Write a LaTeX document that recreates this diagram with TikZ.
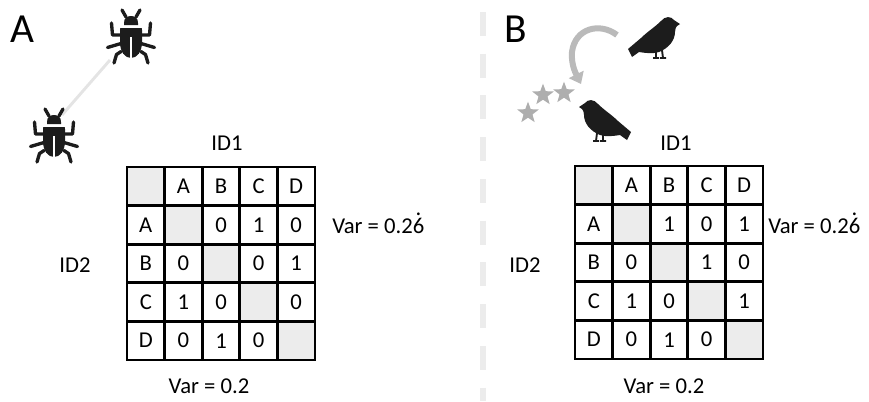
\documentclass[tikz,border=0pt]{standalone}
\usepackage{fontspec}
\setmainfont{Carlito}
\usetikzlibrary{arrows.meta,calc,matrix,shapes.geometric}
\definecolor{iconblack}{RGB}{28,28,28}
\definecolor{cellgray}{RGB}{236,236,236}
\definecolor{linkgray}{RGB}{228,228,228}
\definecolor{stargray}{RGB}{174,174,174}
\definecolor{hopgray}{RGB}{186,186,186}
\definecolor{divgray}{RGB}{236,236,236}
% recurring digit: a dot set over the 6
\newcommand{\recursix}{\ooalign{6\cr\hidewidth\raisebox{0.78em}{.}\hidewidth\cr}}
\tikzset{
  panel label/.style={font=\fontsize{31}{34}\selectfont,inner sep=0pt},
  axis label/.style={font=\fontsize{17}{20}\selectfont,inner sep=0pt},
  adj matrix/.style={matrix of nodes,nodes in empty cells,column sep=-2pt,row sep=-2pt,
    nodes={draw,line width=2pt,minimum width=28.2pt,minimum height=28.95pt,
      inner sep=0pt,anchor=center,font=\fontsize{17}{20}\selectfont}},
  diag cell/.style={fill=cellgray},
  bug leg/.style={iconblack,line width=2.5pt,line cap=round,line join=round},
  bug link/.style={linkgray,line width=2.2pt},
  bird foot/.style={iconblack,line width=1.4pt},
  hop arrow/.style={hopgray,line width=4.5pt,-{Triangle[width=12pt,length=8pt]}},
  mark star/.style={star,star points=5,star point ratio=2.4,fill=stargray,
    inner sep=0pt,minimum size=17pt},
  divider/.style={divgray,line width=3.8pt,dash pattern=on 18pt off 13.3pt},
  pics/beetle/.style={code={
    \draw[bug leg] (-9,-26) -- (-5,-19) (9,-26) -- (5,-19);
    \fill[iconblack] (-7,-11) -- (-7,-13) .. controls (-7,-18) and (-4,-20) .. (0,-20)
      .. controls (4,-20) and (7,-18) .. (7,-13) -- (7,-11) -- cycle;
    \fill[iconblack] (-11,-6) .. controls (-11,-8) .. (-9,-8) -- (9,-8)
      .. controls (11,-8) .. (11,-6) -- (11,6) .. controls (11,16) and (6,22) .. (0,22)
      .. controls (-6,22) and (-11,16) .. (-11,6) -- cycle;
    \draw[white,line width=1.2pt] (0,1) -- (0,23);
    \foreach \s in {-1,1}{
      \draw[bug leg] (\s*10,-1) -- (\s*18.5,-1) -- (\s*19.5,-13);
      \draw[bug leg] (\s*10,7.5) -- (\s*23.5,11.5);
      \draw[bug leg] (\s*10,15.5) -- (\s*14.5,18.5) -- (\s*17,27);
    }
  }},
  pics/bird/.style={code={
    \fill[iconblack] (25,-14) -- (19,-18) .. controls (16,-22) and (10,-22) .. (6,-17)
      .. controls (0,-11) and (-8,-6) .. (-14,0) -- (-27,11) -- (-23,19) -- (-16,14)
      .. controls (-10,15) and (-2,16) .. (4,14) .. controls (14,10) and (20,2) .. (20,-6)
      .. controls (20,-9) and (21,-11) .. (22,-12) -- cycle;
    \draw[bird foot] (1,13) -- (1,20) (-2,20) -- (4,20) (7,12) -- (8,20) (5,20) -- (11,20);
  }},
}

\begin{document}
\begin{tikzpicture}[x=0.75pt,y=-0.75pt]
  \useasboundingbox (0,0) rectangle (869,401);

  % A: beetles
  \node[panel label,anchor=base] (labA) at (22,42) {A};
  \coordinate (bug1) at (131,36);
  \coordinate (bug2) at (54,135);
  \draw[bug link] ($(bug2)+(8,-20)$) -- ($(bug1)+(-21,24)$);
  \pic (bugTop) at (bug1) {beetle};
  \pic (bugLow) at (bug2) {beetle};

  \node[axis label,anchor=base] (idA1) at (227,150) {ID1};
  \node[axis label,anchor=base] (idA2) at (75,272) {ID2};
  \matrix[adj matrix] (adjA) at (221,263.5) {
    |[diag cell]| & A & B & C & D \\
    A & |[diag cell]| & 0 & 1 & 0 \\
    B & 0 & |[diag cell]| & 0 & 1 \\
    C & 1 & 0 & |[diag cell]| & 0 \\
    D & 0 & 1 & 0 & |[diag cell]| \\
  };
  \node[axis label,anchor=base west] (varA1) at (332,233) {Var = 0.2\recursix};
  \node[axis label,anchor=base] (varA2) at (209,393) {Var = 0.2};

  \draw[divider] (483,12) -- (483,401);

  % B: birds
  \node[panel label,anchor=base] (labB) at (516,42) {B};
  \pic (birdTop) at (655,38) {bird};
  \pic[xscale=-1] (birdLow) at (604,121) {bird};
  \coordinate (hop from) at (617,35);
  \coordinate (hop to) at (581,84);
  \draw[hop arrow] (hop from) .. controls (600,22) and (575,28) .. (572,52)
    .. controls (571,63) and (575,72) .. (hop to);
  \node[mark star] (star1) at (528,113) {};
  \node[mark star] (star2) at (543,95) {};
  \node[mark star] (star3) at (564,93) {};

  \node[axis label,anchor=base] (idB1) at (676,150) {ID1};
  \node[axis label,anchor=base] (idB2) at (525,272) {ID2};
  \matrix[adj matrix] (adjB) at (669,262.5) {
    |[diag cell]| & A & B & C & D \\
    A & |[diag cell]| & 1 & 0 & 1 \\
    B & 0 & |[diag cell]| & 1 & 0 \\
    C & 1 & 0 & |[diag cell]| & 1 \\
    D & 0 & 1 & 0 & |[diag cell]| \\
  };
  \node[axis label,anchor=base west] (varB1) at (768,233) {Var = 0.2\recursix};
  \node[axis label,anchor=base] (varB2) at (664,393) {Var = 0.2};
\end{tikzpicture}
\end{document}
